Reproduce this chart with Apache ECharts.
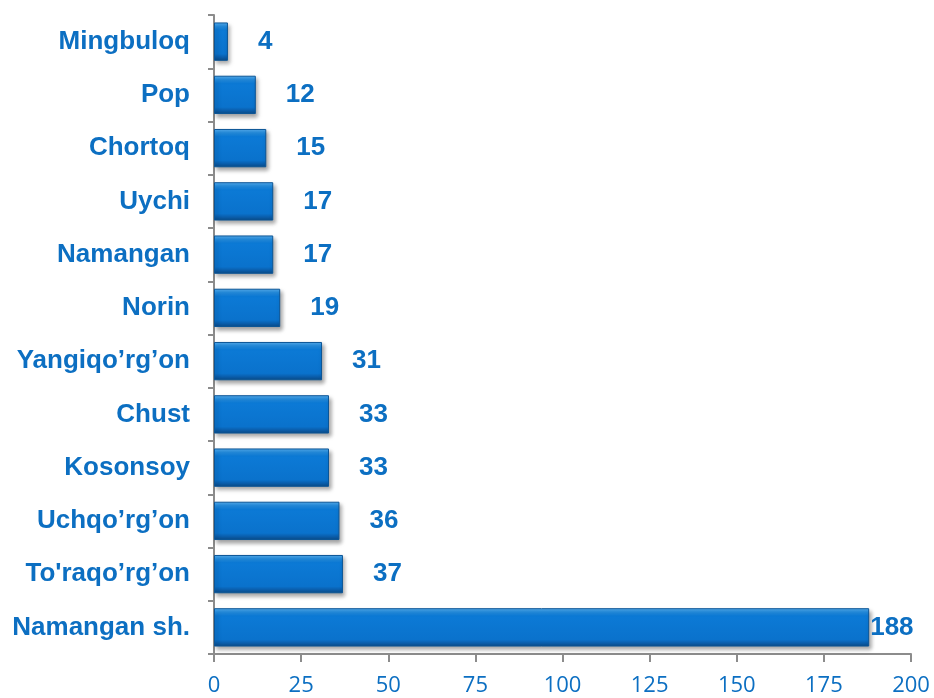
<!DOCTYPE html>
<html>
<head>
<meta charset="utf-8">
<script src="https://cdn.jsdelivr.net/npm/echarts@6/dist/echarts.min.js"></script>
<style>
    html, body { margin: 0; padding: 0; background: #fff; }
    #chart { width: 934px; height: 698px; }
</style>
</head>
<body>
<div id="chart"></div>
<script>
// districts, bottom to top
const districts = ['Namangan sh.', "To'raqo’rg’on", 'Uchqo’rg’on', 'Kosonsoy', 'Chust', 'Yangiqo’rg’on',
    'Norin', 'Namangan', 'Uychi', 'Chortoq', 'Pop', 'Mingbuloq']
const counts = [188, 37, 36, 33, 33, 31, 19, 17, 17, 15, 12, 4]
const xTicks = [0, 25, 50, 75, 100, 125, 150, 175, 200]

const textBlue = '#0c6fc2'
const chart = echarts.init(document.getElementById('chart'))

// bevelled blue bars
const barColor = new echarts.graphic.LinearGradient(0, 0, 0, 1, [
    { offset: 0, color: '#58b0f0' },
    { offset: 0.1, color: '#2590e4' },
    { offset: 0.2, color: '#0c7ad6' },
    { offset: 0.82, color: '#0a72cc' },
    { offset: 0.9, color: '#0a5fae' },
    { offset: 1, color: '#0a4a86' }
])

const option = {
    animation: false,
    grid: { left: 214, right: 23, top: 15, bottom: 44 },
    xAxis: {
        type: 'value',
        min: xTicks[0],
        max: xTicks[xTicks.length - 1],
        interval: 25,
        axisLine: { show: true, lineStyle: { color: '#8c8c8c', width: 2 } },
        axisTick: { show: true, length: 8, lineStyle: { color: '#8c8c8c', width: 2 } },
        splitLine: { show: false },
        axisLabel: { color: textBlue, fontSize: 22, fontFamily: 'Open Sans', margin: 21 }
    },
    yAxis: {
        type: 'category',
        data: districts,
        axisLine: { lineStyle: { color: '#8c8c8c', width: 2 } },
        axisTick: { show: true, inside: false, length: 6, lineStyle: { color: '#8c8c8c', width: 2 } },
        axisLabel: {
            color: textBlue, fontSize: 26, fontWeight: 'bold',
            fontFamily: 'Liberation Sans', margin: 24
        }
    },
    series: [{
        type: 'bar',
        barWidth: '72%',
        data: counts.map(v => ({
            value: v,
            label: { distance: v > 100 ? 1 : 30 }
        })),
        itemStyle: {
            color: barColor,
            borderColor: '#0b5596',
            borderWidth: 1,
            shadowColor: 'rgba(0,0,0,0.35)',
            shadowBlur: 4,
            shadowOffsetX: 2,
            shadowOffsetY: 3
        },
        label: {
            show: true,
            position: 'right',
            color: textBlue,
            fontSize: 26,
            fontWeight: 'bold',
            fontFamily: 'Liberation Sans'
        }
    }]
}
chart.setOption(option)
</script>
</body>
</html>
